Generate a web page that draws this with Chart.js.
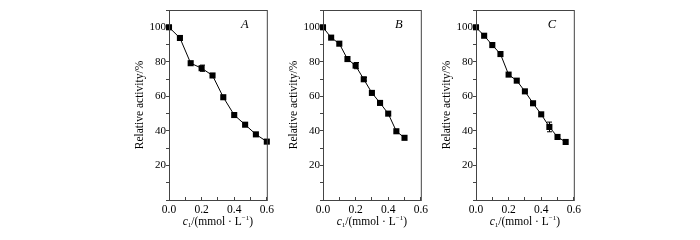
<!DOCTYPE html>
<html>
<head>
<meta charset="utf-8">
<script src="https://cdn.jsdelivr.net/npm/chart.js@4.4.0/dist/chart.umd.min.js"></script>
<style>
  body { margin: 0; background: #fff; }
  .wrap { position: absolute; top: 0; width: 150px; height: 240px; }
</style>
</head>
<body>
<div class="wrap" style="left:130px"><canvas id="chartA"></canvas></div>
<div class="wrap" style="left:284px"><canvas id="chartB"></canvas></div>
<div class="wrap" style="left:437px"><canvas id="chartC"></canvas></div>
<script>
// concentrations (mmol/L) and relative activity (%)
const concA = [0, 0.067, 0.133, 0.2, 0.267, 0.333, 0.4, 0.467, 0.533, 0.6];
const activityA = [100, 93.8, 79.2, 76.3, 72.1, 59.5, 49.2, 43.6, 38.0, 33.8];
const errA = [0, 0, 0, 1.8, 0, 0, 0.8, 0, 0, 0];

const concB = [0, 0.05, 0.1, 0.15, 0.2, 0.25, 0.3, 0.35, 0.4, 0.45, 0.5];
const activityB = [100, 94.0, 90.5, 81.6, 77.8, 69.9, 62.0, 56.2, 50.0, 39.8, 36.0];
const errB = [0, 0, 0, 0, 1.8, 1.0, 0, 0, 0, 0, 0];

const concC = [0, 0.05, 0.1, 0.15, 0.2, 0.25, 0.3, 0.35, 0.4, 0.45, 0.5, 0.55];
const activityC = [100, 95.1, 89.7, 84.5, 72.6, 69.1, 62.9, 56.0, 49.6, 42.3, 36.5, 33.6];
const errC = [0, 0, 0, 0, 0, 0, 0, 0, 0.8, 2.8, 0, 0];

const yTicks = [20, 40, 60, 80, 100];
const xTicks = [0.0, 0.2, 0.4, 0.6];

const FONT = '"Liberation Serif", "Times New Roman", serif';

// box around plot, error bars, panel letter and x title
const extras = {
  id: 'extras',
  afterDatasetsDraw(chart, args, opts) {
    const ctx = chart.ctx;
    const a = chart.chartArea;
    const xs = chart.scales.x, ys = chart.scales.y;
    ctx.save();
    ctx.strokeStyle = '#444';
    ctx.lineWidth = 1;
    ctx.strokeRect(a.left + 0.5, a.top + 0.5, a.right - a.left, a.bottom - a.top);

    // error bars
    ctx.strokeStyle = '#000';
    const ds = chart.data.datasets[0];
    ds.data.forEach((p, i) => {
      const e = opts.err[i];
      if (!e) return;
      const px = Math.round(xs.getPixelForValue(p.x)) + 0.5;
      const y1 = ys.getPixelForValue(p.y + e), y2 = ys.getPixelForValue(p.y - e);
      ctx.beginPath();
      ctx.moveTo(px, y1); ctx.lineTo(px, y2);
      ctx.moveTo(px - 2.5, y1); ctx.lineTo(px + 2.5, y1);
      ctx.moveTo(px - 2.5, y2); ctx.lineTo(px + 2.5, y2);
      ctx.stroke();
    });

    // panel letter
    ctx.fillStyle = '#000';
    ctx.font = 'italic 12.5px ' + FONT;
    ctx.textAlign = 'center';
    ctx.textBaseline = 'middle';
    ctx.fillText(opts.letter, a.right - 22, a.top + 15);

    // x axis title: c1/(mmol · L-1)
    const parts = [
      { t: 'c', f: 'italic 11.5px ' + FONT, dy: 0 },
      { t: '1', f: '7px ' + FONT, dy: 3 },
      { t: '/(mmol · L', f: '11.5px ' + FONT, dy: 0 },
      { t: '\u22121', f: '7px ' + FONT, dy: -4 },
      { t: ')', f: '11.5px ' + FONT, dy: 0 }
    ];
    let w = 0;
    parts.forEach(p => { ctx.font = p.f; w += ctx.measureText(p.t).width; });
    let x = (a.left + a.right) / 2 - w / 2;
    const y = 222;
    ctx.textAlign = 'left';
    parts.forEach(p => {
      ctx.font = p.f;
      ctx.fillText(p.t, x, y + p.dy);
      x += ctx.measureText(p.t).width;
    });
    ctx.restore();
  }
};

function makeChart(id, conc, activity, err, letter) {
  const ctx = document.getElementById(id).getContext('2d');
  return new Chart(ctx, {
    type: 'line',
    data: {
      datasets: [{
        data: conc.map((c, i) => ({ x: c, y: activity[i] })),
        borderColor: '#000',
        borderWidth: 1,
        backgroundColor: '#000',
        pointStyle: 'rect',
        pointRadius: 4.3,
        pointBorderWidth: 0,
        tension: 0,
        clip: false
      }]
    },
    options: {
      responsive: true,
      maintainAspectRatio: false,
      animation: false,
      layout: { padding: { top: 10, right: 13, left: 0, bottom: 0 } },
      plugins: {
        legend: { display: false },
        tooltip: { enabled: false },
        extras: { letter: letter, err: err }
      },
      scales: {
        x: {
          type: 'linear',
          min: 0,
          max: 0.6,
          afterFit(s) { s.height = 40; },
          border: { display: false },
          grid: { drawOnChartArea: false, tickLength: -3, color: '#444' },
          ticks: {
            stepSize: 0.1,
            padding: 6,
            color: '#000',
            font: { family: FONT, size: 11.5 },
            maxRotation: 0,
            autoSkip: false,
            callback: v => {
              const t = xTicks.find(k => Math.abs(k - v) < 1e-6);
              return t === undefined ? '' : t.toFixed(1);
            }
          }
        },
        y: {
          min: 0,
          max: 110,
          afterFit(s) { s.width = 39; },
          border: { display: false },
          grid: { drawOnChartArea: false, tickLength: 3, color: '#444' },
          ticks: {
            stepSize: 10,
            padding: 0,
            color: '#000',
            font: { family: FONT, size: 11 },
            callback: v => (yTicks.includes(v) ? String(v) : '')
          },
          title: {
            display: true,
            text: 'Relative activity/%',
            color: '#000',
            font: { family: FONT, size: 11.5 },
            padding: { top: 3, bottom: 0 }
          }
        }
      }
    },
    plugins: [extras]
  });
}

makeChart('chartA', concA, activityA, errA, 'A');
makeChart('chartB', concB, activityB, errB, 'B');
makeChart('chartC', concC, activityC, errC, 'C');
</script>
</body>
</html>
